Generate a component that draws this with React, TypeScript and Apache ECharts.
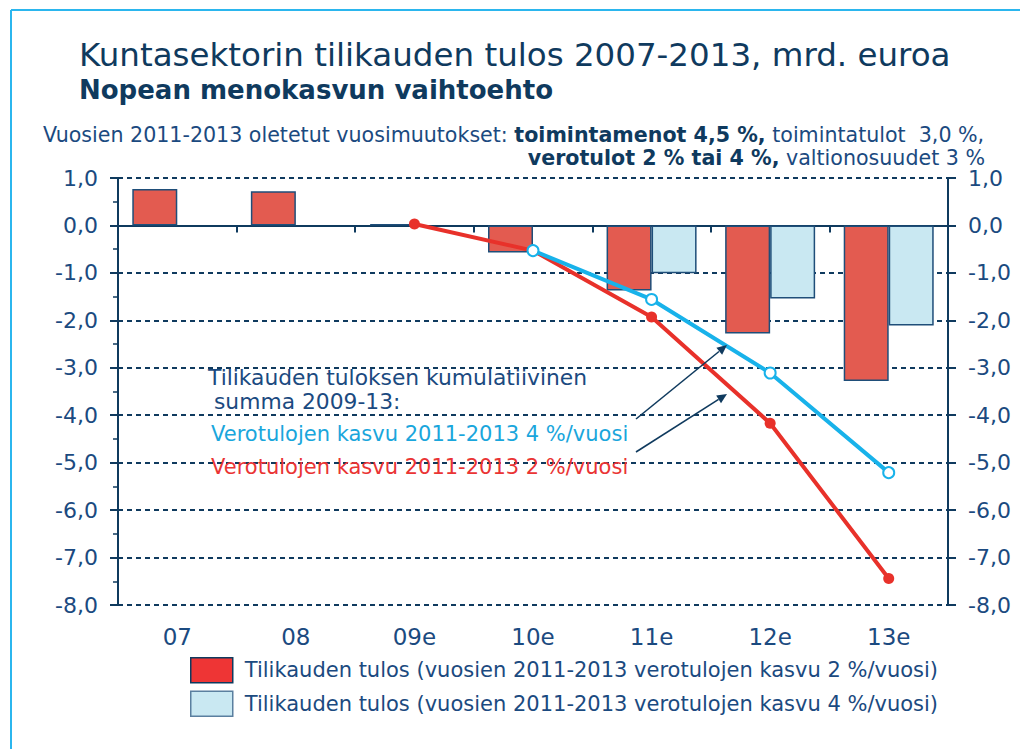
import React, { useEffect, useRef } from "react";
import * as echarts from "echarts";

const categories = ["07", "08", "09e", "10e", "11e", "12e", "13e"];
const result2pct = [0.77, 0.72, 0.03, -0.57, -1.37, -2.28, -3.28];
const result4pct = [null, null, null, null, -1.01, -1.54, -2.11];
const cumulative2pct = [null, null, 0.03, -0.53, -1.93, -4.17, -7.44];
const cumulative4pct = [null, null, null, -0.53, -1.56, -3.11, -5.21];
const yMin = -8;
const yMax = 1;

const legendRed = "Tilikauden tulos (vuosien 2011-2013 verotulojen kasvu 2 %/vuosi)";
const legendBlue = "Tilikauden tulos (vuosien 2011-2013 verotulojen kasvu 4 %/vuosi)";

const NAVY = "#0f3a5e";
const LABEL = "#1b4a80";
const FONT = "DejaVu Sans";

export default function App() {
  const ref = useRef<HTMLDivElement>(null);
  useEffect(() => {
    const chart = echarts.init(ref.current!, null, { renderer: "svg" });
    const fmt = (v: number) => v.toFixed(1).replace(".", ",");
    const yCommon = {
      type: "value",
      min: yMin,
      max: yMax,
      interval: 1,
      axisLine: { show: true, lineStyle: { color: NAVY, width: 2 } },
      axisTick: { show: true, length: 8, lineStyle: { color: NAVY, width: 2 } },
      axisLabel: { formatter: fmt, margin: 20, fontSize: 22, color: LABEL, fontFamily: FONT },
    };
    chart.setOption({
      animation: false,
      backgroundColor: "#ffffff",
      grid: { left: 118, right: 72, top: 178, bottom: 144, containLabel: false },
      legend: {
        orient: "vertical",
        left: 190,
        top: 657,
        padding: 0,
        itemWidth: 42,
        itemHeight: 25,
        itemGap: 7,
        icon: "rect",
        textStyle: { fontSize: 21, color: LABEL, fontFamily: FONT, padding: [0, 0, 0, 7] },
        data: [
          { name: legendRed, itemStyle: { color: "#ee3535", borderColor: NAVY, borderWidth: 1.5 } },
          { name: legendBlue, itemStyle: { color: "#c9e8f2", borderColor: "#5a7f9f", borderWidth: 1.5 } },
        ],
      },
      xAxis: [
        {
          type: "category",
          data: categories,
          position: "bottom",
          axisLine: { show: true, onZero: true, lineStyle: { color: NAVY, width: 2 } },
          axisTick: { show: true, interval: 0, length: 7, lineStyle: { color: NAVY, width: 2 } },
          axisLabel: { show: false },
        },
        {
          type: "category",
          data: categories,
          position: "bottom",
          axisLine: { show: false, onZero: false },
          axisTick: { show: false },
          axisLabel: { show: true, margin: 20, fontSize: 23, color: LABEL, fontFamily: FONT },
        },
      ],
      yAxis: [
        {
          ...yCommon,
          position: "left",
          minorTick: { show: true, splitNumber: 2, length: 5, lineStyle: { color: NAVY, width: 1.5 } },
          splitLine: { show: true, lineStyle: { type: [5, 4], color: NAVY, width: 2 } },
        },
        {
          ...yCommon,
          position: "right",
          splitLine: { show: false },
        },
      ],
      series: [
        {
          name: legendRed,
          type: "bar",
          data: result2pct,
          barWidth: 45,
          barGap: "0%",
          itemStyle: { color: "#e35b50", borderColor: "#1f4e79", borderWidth: 1.5 },
          z: 2,
        },
        {
          name: legendBlue,
          type: "bar",
          data: result4pct,
          barWidth: 45,
          barGap: "0%",
          itemStyle: { color: "#c9e8f2", borderColor: "#1f4e79", borderWidth: 1.5 },
          z: 2,
        },
        {
          name: "Kumulatiivinen 2 %",
          type: "line",
          data: cumulative2pct,
          symbol: "circle",
          symbolSize: 11,
          lineStyle: { color: "#e8312a", width: 4 },
          itemStyle: { color: "#e8312a" },
          z: 5,
        },
        {
          name: "Kumulatiivinen 4 %",
          type: "line",
          data: cumulative4pct,
          symbol: "circle",
          symbolSize: 11,
          lineStyle: { color: "#18b2ea", width: 4 },
          itemStyle: { color: "#ffffff", borderColor: "#18b2ea", borderWidth: 2 },
          z: 6,
        },
      ],
      graphic: [
        { type: "line", shape: { x1: 11, y1: 10, x2: 1020, y2: 10 }, style: { stroke: "#2bb6ee", lineWidth: 2 } },
        { type: "line", shape: { x1: 11, y1: 10, x2: 11, y2: 749 }, style: { stroke: "#2bb6ee", lineWidth: 2 } },
        {
          type: "text", x: 79, y: 55,
          style: { text: "Kuntasektorin tilikauden tulos 2007-2013, mrd. euroa", font: `32.5px '${FONT}'`, fill: NAVY, align: "left", verticalAlign: "middle" },
        },
        {
          type: "text", x: 79, y: 90,
          style: { text: "Nopean menokasvun vaihtoehto", font: `bold 26px '${FONT}'`, fill: NAVY, align: "left", verticalAlign: "middle" },
        },
        {
          type: "text", x: 43, y: 135,
          style: {
            text: "{n|Vuosien 2011-2013 oletetut vuosimuutokset: }{b|toimintamenot 4,5 %,}{n| toimintatulot  3,0 %,}",
            align: "left", verticalAlign: "middle",
            rich: {
              n: { fontSize: 20.6, fontFamily: FONT, fill: LABEL, color: LABEL },
              b: { fontSize: 20.6, fontFamily: FONT, fontWeight: "bold", fill: NAVY, color: NAVY },
            },
          },
        },
        {
          type: "text", x: 985, y: 158,
          style: {
            text: "{b|verotulot 2 % tai 4 %,}{n| valtionosuudet 3 %}",
            align: "right", verticalAlign: "middle",
            rich: {
              n: { fontSize: 20.6, fontFamily: FONT, fill: LABEL, color: LABEL },
              b: { fontSize: 20.6, fontFamily: FONT, fontWeight: "bold", fill: NAVY, color: NAVY },
            },
          },
        },
        {
          type: "text", x: 208, y: 377,
          style: { text: "Tilikauden tuloksen kumulatiivinen", font: `21.8px '${FONT}'`, fill: LABEL, align: "left", verticalAlign: "middle" },
          z: 10,
        },
        {
          type: "text", x: 214, y: 401,
          style: { text: "summa 2009-13:", font: `21.8px '${FONT}'`, fill: LABEL, align: "left", verticalAlign: "middle" },
          z: 10,
        },
        {
          type: "text", x: 211, y: 434,
          style: { text: "Verotulojen kasvu 2011-2013 4 %/vuosi", font: `21px '${FONT}'`, fill: "#1aa6dc", align: "left", verticalAlign: "middle" },
          z: 10,
        },
        {
          type: "text", x: 211, y: 467,
          style: { text: "Verotulojen kasvu 2011-2013 2 %/vuosi", font: `21px '${FONT}'`, fill: "#ea3434", align: "left", verticalAlign: "middle" },
          z: 10,
        },
        { type: "line", shape: { x1: 636, y1: 419, x2: 719, y2: 351.5 }, style: { stroke: NAVY, lineWidth: 1.6 }, z: 10 },
        { type: "polygon", shape: { points: [[727, 345], [722.1, 354.8], [716.4, 347.8]] }, style: { fill: NAVY }, z: 10 },
        { type: "line", shape: { x1: 636, y1: 452, x2: 718.6, y2: 399.4 }, style: { stroke: NAVY, lineWidth: 1.6 }, z: 10 },
        { type: "polygon", shape: { points: [[727, 394], [721.0, 403.2], [716.2, 395.6]] }, style: { fill: NAVY }, z: 10 },
      ],
    });
    return () => chart.dispose();
  }, []);
  return (
    <div
      ref={ref}
      style={{ position: "fixed", left: 0, top: 0, width: 1020, height: 749, background: "#fff" }}
    />
  );
}
